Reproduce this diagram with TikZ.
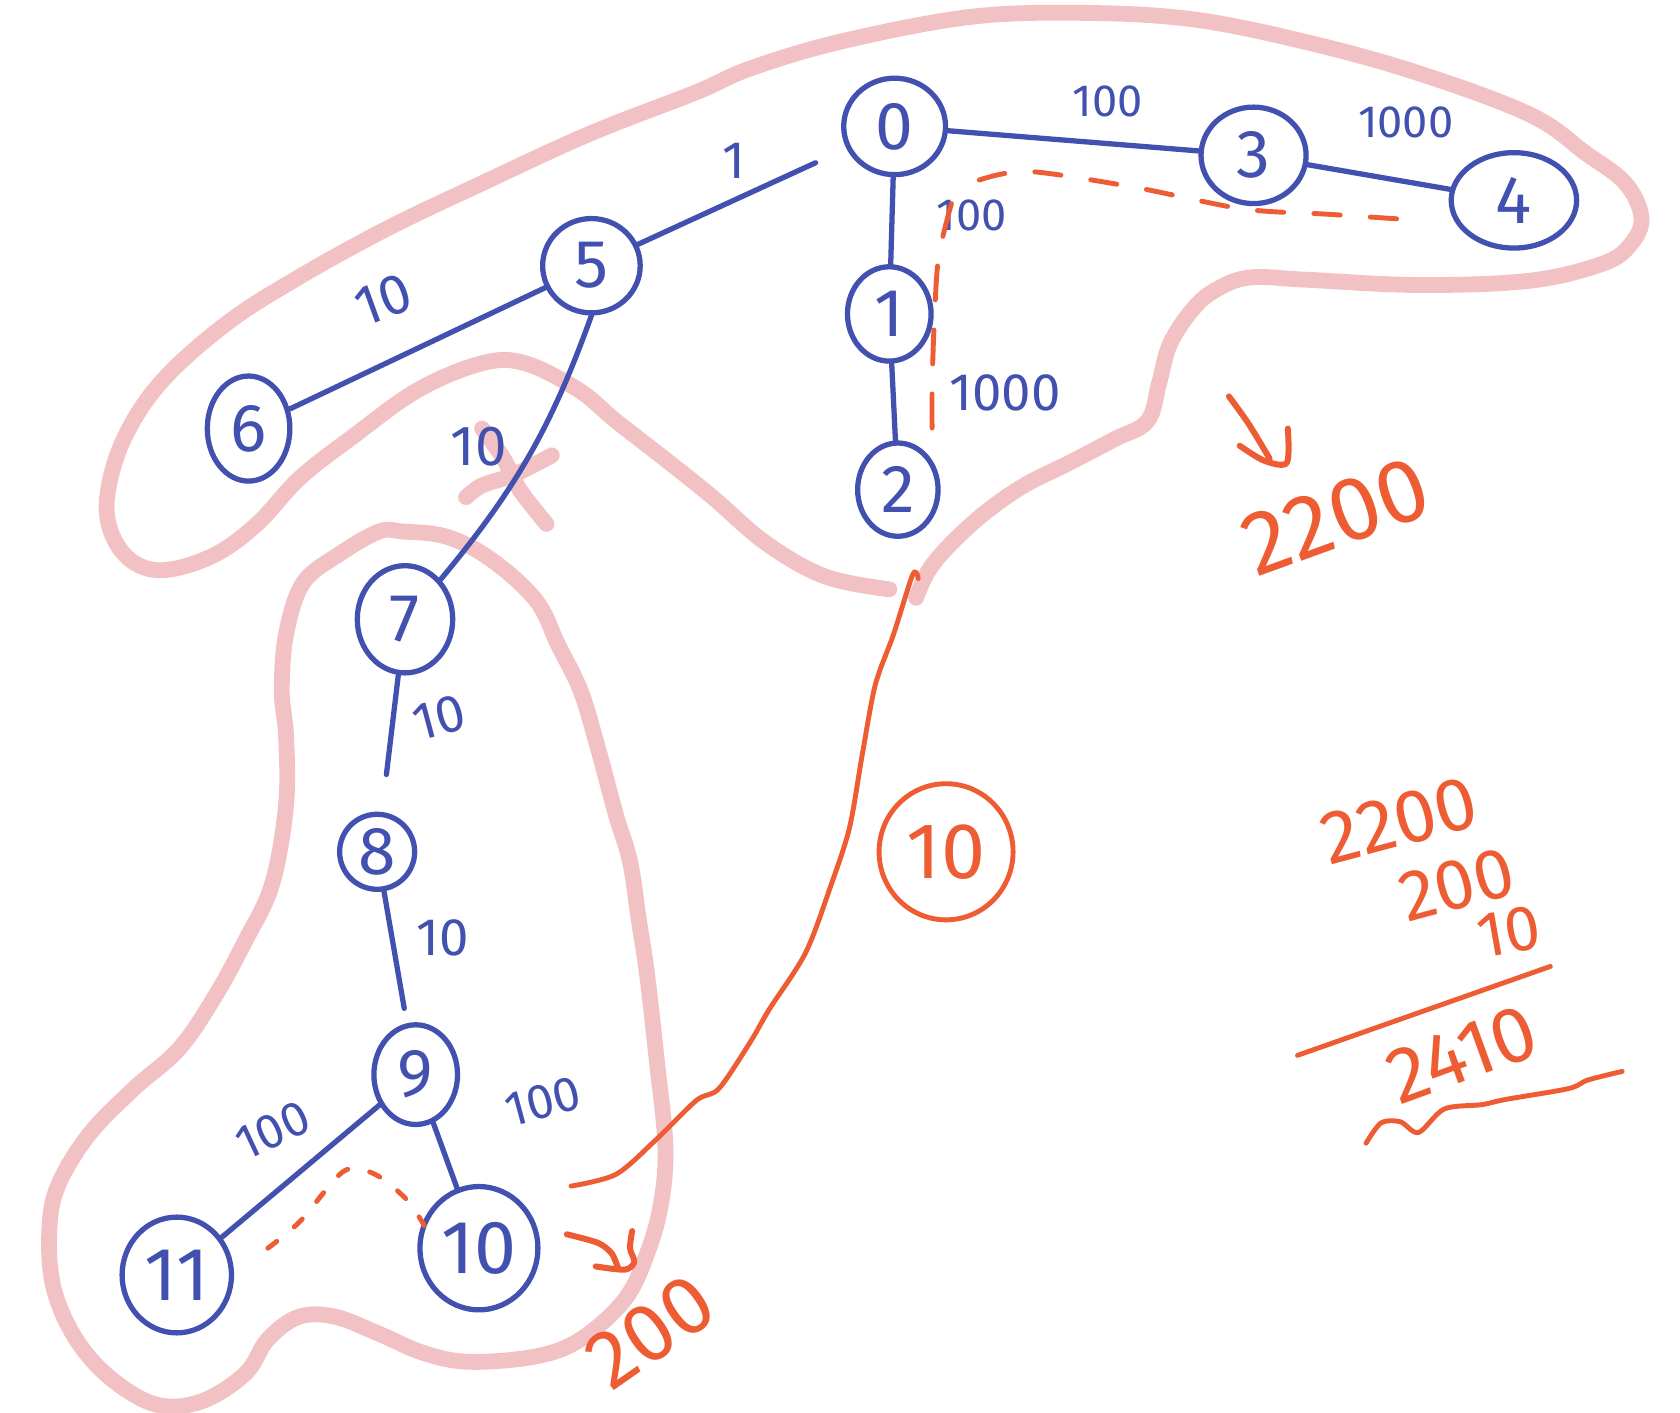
\documentclass[tikz,border=0pt]{standalone}
\usepackage{fontspec}
\setmainfont{Fira Sans}
\usepackage{tikz}
\usetikzlibrary{shapes.geometric}
\definecolor{AzulGrafo}{RGB}{66,80,175}
\definecolor{NaranjaCorte}{RGB}{238,92,52}
\definecolor{RosaGrupo}{RGB}{242,193,195}

\begin{document}
\begin{tikzpicture}[x=0.01cm,y=-0.01cm,line cap=round,line join=round,
  vert/.style={ellipse,draw=AzulGrafo,line width=1.4pt,text=AzulGrafo,inner sep=0pt,font=\fontsize{18}{18}\selectfont},
  arista/.style={AzulGrafo,line width=1.4pt},
  peso/.style={text=AzulGrafo,inner sep=0pt,font=\fontsize{12}{12}\selectfont},
  zona/.style={RosaGrupo,line width=4.2pt},
  traza/.style={NaranjaCorte,line width=1.3pt},
  cifra/.style={text=NaranjaCorte,inner sep=0pt,font=\fontsize{21}{21}\selectfont}]
  \useasboundingbox (0,0) rectangle (1568,1318);
  \draw[zona] plot[smooth,tension=0.6] coordinates {(855,558) (867,532) (888,507) (920,478) (956,453) (998,432) (1040,410) (1071,393) (1082,357) (1092,321) (1113,289) (1134,271) (1166,259) (1218,261) (1323,266) (1428,262) (1496,246) (1522,228) (1532,203) (1517,171) (1480,143) (1428,107) (1323,68) (1218,39) (1113,18) (1009,12) (904,16) (784,39) (700,64) (650,86) (550,125) (450,171) (360,214) (275,261) (210,303) (150,357) (115,411) (100,464) (105,500) (125,525) (155,532) (200,518) (240,489) (280,446) (330,407) (390,364) (450,339) (490,339) (540,364) (575,393) (620,428) (665,464) (715,507) (770,538) (830,550)};
  \draw[zona] plot[smooth cycle,tension=0.6] coordinates {(375,496) (417,501) (458,522) (500,560) (521,602) (542,645) (558,698) (575,761) (588,804) (596,857) (604,910) (613,990) (621,1069) (617,1123) (604,1170) (583,1213) (542,1250) (500,1266) (438,1271) (396,1263) (354,1245) (313,1229) (279,1229) (250,1250) (229,1282) (188,1308) (146,1311) (104,1287) (71,1250) (50,1202) (46,1149) (54,1107) (83,1059) (125,1016) (167,979) (200,931) (229,878) (254,825) (267,751) (267,687) (263,645) (267,592) (283,544) (317,517) (354,496)};
  \draw[zona] plot[smooth] coordinates {(435,464) (450,453) (480,443) (515,425)};
  \draw[zona] plot[smooth] coordinates {(450,400) (470,428) (485,457) (510,489)};

  \node[vert,minimum width=0.95cm,minimum height=0.9cm] (n0) at (835,118) {0};
  \node[vert,minimum width=0.78cm,minimum height=0.88cm] (n1) at (830,293) {1};
  \node[vert,minimum width=0.75cm,minimum height=0.87cm] (n2) at (838,457) {2};
  \node[vert,minimum width=0.98cm,minimum height=0.9cm] (n3) at (1170,145) {3};
  \node[vert,minimum width=1.17cm,minimum height=0.89cm] (n4) at (1413,187) {4};
  \node[vert,minimum width=0.91cm,minimum height=0.88cm] (n5) at (552,248) {5};
  \node[vert,minimum width=0.77cm,minimum height=0.98cm] (n6) at (232,400) {6};
  \node[vert,minimum width=0.89cm,minimum height=1.0cm] (n7) at (378,578) {7};
  \node[vert,minimum width=0.7cm,minimum height=0.7cm] (n8) at (352,795) {8};
  \node[vert,minimum width=0.78cm,minimum height=0.93cm] (n9) at (388,1003) {9};
  \node[vert,minimum width=1.1cm,minimum height=1.15cm,font=\fontsize{20}{20}\selectfont] (n10) at (447,1165) {10};
  \node[vert,minimum width=1.02cm,minimum height=1.08cm,font=\fontsize{20}{20}\selectfont] (n11) at (165,1190) {11};

  \draw[arista] (n0) -- (n3);
  \draw[arista] (n3) -- (n4);
  \draw[arista,shorten >=9pt] (n5) -- (n0);
  \draw[arista] (n0) -- (n1);
  \draw[arista] (n1) -- (n2);
  \draw[arista] (n5) -- (n6);
  \draw[arista] (n5.south) to[bend left=10] (n7.north east);
  \draw[arista,shorten >=10pt] (n7) -- (n8);
  \draw[arista,shorten >=4pt] (n8) -- (n9);
  \draw[arista] (n9) -- (n11);
  \draw[arista] (n9) -- (n10);

  \node[peso] (w03) at (1034,95) {100};
  \node[peso] (w34) at (1312,114) {1000};
  \node[peso,font=\fontsize{14}{14}\selectfont] (w05) at (685,150) {1};
  \node[peso] (w01) at (907,201) {100};
  \node[peso,font=\fontsize{14}{14}\selectfont] (w12) at (938,367) {1000};
  \node[peso,rotate=20,font=\fontsize{15}{15}\selectfont] (w56) at (358,280) {10};
  \node[peso,font=\fontsize{15}{15}\selectfont] (w57) at (447,417) {10};
  \node[peso,rotate=15,font=\fontsize{14}{14}\selectfont] (w78) at (410,670) {10};
  \node[peso,font=\fontsize{14}{14}\selectfont] (w89) at (413,875) {10};
  \node[peso,rotate=25,font=\fontsize{13}{13}\selectfont] (w911) at (255,1055) {100};
  \node[peso,rotate=15,font=\fontsize{13}{13}\selectfont] (w910) at (507,1028) {100};

  \draw[traza,dash pattern=on 7pt off 8pt] plot[smooth] coordinates {(914,168) (960,160) (1060,175) (1160,195) (1240,200) (1315,205)};
  \draw[traza,dash pattern=on 9pt off 8pt] plot[smooth] coordinates {(888,190) (876,240) (872,300) (870,360) (870,410)};
  \draw[traza,dash pattern=on 3pt off 6pt] plot[smooth] coordinates {(250,1165) (280,1140) (321,1093) (350,1096) (380,1120) (396,1144)};
  \draw[traza] plot[smooth] coordinates {(533,1107) (575,1096) (612,1064) (650,1027) (671,1016) (700,973) (718,942) (752,889) (776,825) (793,772) (805,703) (817,639) (834,592) (852,536) (857,540)};
  \draw[traza,line width=1.6pt] plot[smooth] coordinates {(1147,370) (1165,395) (1185,428)};
  \draw[traza,line width=1.6pt] plot[smooth] coordinates {(1202,400) (1201,432) (1180,430) (1157,416)};
  \draw[traza,line width=1.6pt] plot[smooth] coordinates {(529,1152) (558,1160) (571,1170) (577,1184)};
  \draw[traza,line width=1.6pt] plot[smooth] coordinates {(590,1149) (588,1165) (592,1178) (583,1185) (556,1182)};

  \node[ellipse,draw=NaranjaCorte,line width=1.3pt,inner sep=0pt,minimum width=1.25cm,minimum height=1.27cm,cifra] (corte) at (883,795) {10};
  \node[cifra,rotate=20,font=\fontsize{24}{24}\selectfont] (t1) at (1247,482) {2200};
  \node[cifra,rotate=35,font=\fontsize{22}{22}\selectfont] (t2) at (607,1243) {200};
  \node[cifra,rotate=15,font=\fontsize{20}{20}\selectfont] (s1) at (1306,766) {2200};
  \node[cifra,rotate=15,font=\fontsize{19}{19}\selectfont] (s2) at (1360,826) {200};
  \node[cifra,rotate=10,font=\fontsize{17}{17}\selectfont] (s3) at (1408,870) {10};
  \draw[traza] (1211,985) -- (1447,902);
  \node[cifra,rotate=20] (s4) at (1365,984) {2410};
  \draw[traza] plot[smooth] coordinates {(1275,1067) (1289,1048) (1307,1047) (1324,1057) (1348,1035) (1383,1031) (1406,1026) (1464,1016) (1482,1008) (1514,1000)};
\end{tikzpicture}
\end{document}
